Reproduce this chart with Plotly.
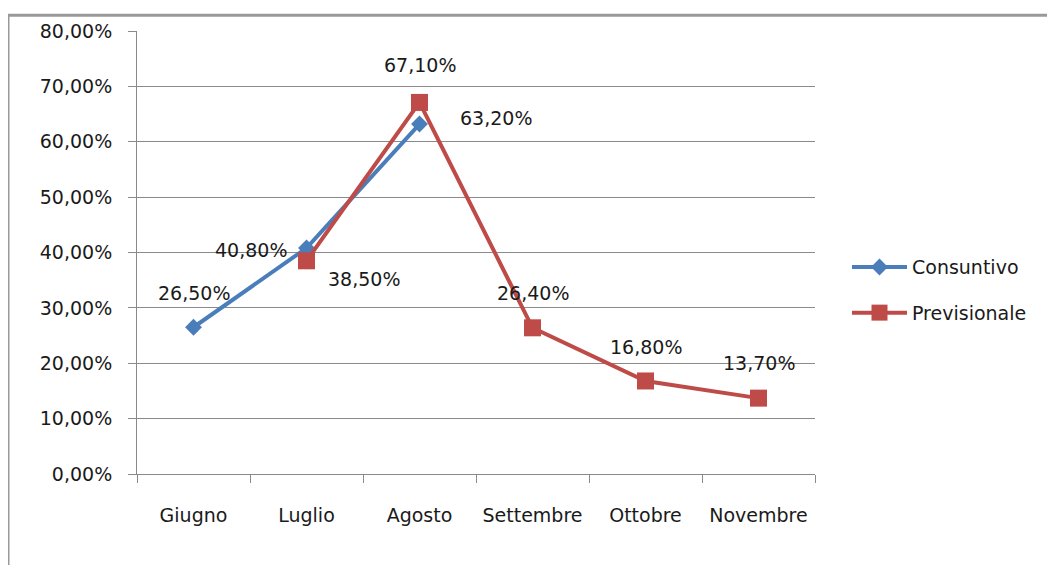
import plotly.graph_objects as go

months = ["Giugno", "Luglio", "Agosto", "Settembre", "Ottobre", "Novembre"]
cons_months = ["Giugno", "Luglio", "Agosto"]
cons_values = [0.265, 0.408, 0.632]
prev_months = ["Luglio", "Agosto", "Settembre", "Ottobre", "Novembre"]
prev_values = [0.385, 0.671, 0.264, 0.168, 0.137]
y_ticks = [0, 0.1, 0.2, 0.3, 0.4, 0.5, 0.6, 0.7, 0.8]

# label offsets (style only)
cons_shift = [(0, 34), (-56, -2), (76, 6)]
prev_shift = [(57, -18), (0, 37), (0, 35), (0, 34), (0, 35)]

FONT = "DejaVu Sans"
TXT = "#1a1a1a"
GRID = "#8a8a8a"
BLUE = "#4A7EBB"
RED = "#BE4B48"

fig = go.Figure()
fig.add_trace(go.Scatter(
    x=cons_months, y=cons_values, name="Consuntivo", mode="lines+markers",
    line=dict(color=BLUE, width=4),
    marker=dict(symbol="diamond", size=13, color=BLUE),
    legendgroup="a",
))
fig.add_trace(go.Scatter(
    x=prev_months, y=prev_values, name="Previsionale", mode="lines+markers",
    line=dict(color=RED, width=4),
    marker=dict(symbol="square", size=17, color=RED),
    legendgroup="b",
))

annotations = []
for xs, ys, shifts in ((cons_months, cons_values, cons_shift), (prev_months, prev_values, prev_shift)):
    for x, y, (dx, dy) in zip(xs, ys, shifts):
        annotations.append(dict(
            x=x, y=y, xref="x", yref="y", showarrow=False,
            text=f"{y*100:.2f}%".replace(".", ","),
            xshift=dx, yshift=dy,
            font=dict(family=FONT, size=19, color=TXT),
        ))

# page has an 8px body margin
OFF = 8
W, H = 1055 - OFF, 565 - OFF
L, R, T, B = 137 - OFF, 240, 26 - OFF, 91
pw = W - L - R
ph = H - T - B

fig.update_layout(
    width=W, height=H,
    margin=dict(l=L, r=R, t=T, b=B, pad=0),
    paper_bgcolor="white", plot_bgcolor="white",
    separators=",.",
    font=dict(family=FONT, size=19, color=TXT),
    showlegend=True,
    legend=dict(
        x=(847 - 137) / pw, y=(474 - 288) / ph, xanchor="left", yanchor="middle",
        font=dict(family=FONT, size=19, color=TXT),
        traceorder="grouped", tracegroupgap=18,
        itemwidth=55,
        bgcolor="rgba(0,0,0,0)",
    ),
    annotations=annotations,
    shapes=[dict(
        type="rect", xref="paper", yref="paper",
        x0=(8 - 137) / pw, x1=(1080 - 137) / pw,
        y0=(474 - 600) / ph, y1=(474 - 10) / ph,
        line=dict(color="#999999", width=3), layer="below",
    )],
)

fig.update_xaxes(
    type="category", categoryorder="array", categoryarray=months,
    tickson="boundaries", ticks="outside", ticklen=8, tickcolor=GRID,
    showline=True, linecolor=GRID, linewidth=1,
    showgrid=False, zeroline=False,
    ticklabelstandoff=24,
    tickfont=dict(family=FONT, size=19, color=TXT),
    range=[-0.5, 5.5],
)
fig.update_yaxes(
    range=[0, 0.8], tickvals=y_ticks, tickformat=".2%",
    ticks="outside", ticklen=8, tickcolor=GRID,
    showline=True, linecolor=GRID, linewidth=1,
    showgrid=True, gridcolor=GRID, gridwidth=1,
    zeroline=False,
    ticklabelstandoff=12,
    tickfont=dict(family=FONT, size=19, color=TXT),
)

fig.write_html("out.html")
